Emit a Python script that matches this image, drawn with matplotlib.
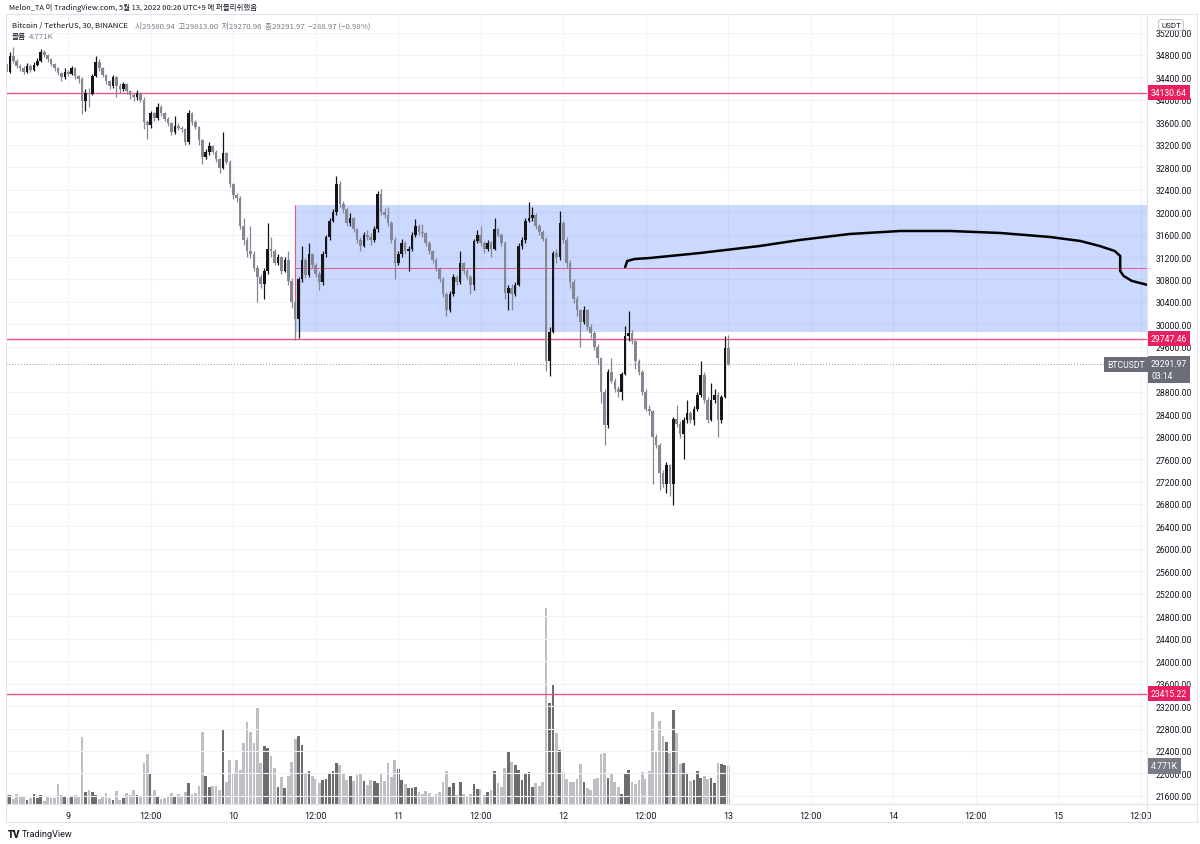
import numpy as np
import matplotlib
matplotlib.use("Agg")
import matplotlib.pyplot as plt
from matplotlib import transforms
from matplotlib.lines import Line2D
from matplotlib.patches import Rectangle

plt.rcParams["font.family"] = ["Roboto", "Noto Sans CJK KR", "DejaVu Sans"]

# 30 min candles, BTCUSDT, May 8 15:00 .. May 13 00:00 (hours from May 9 00:00)
start_hour = -9.0
bar_hours = 0.5
first_open = 34640

closes = [
    34500, 34780, 34700, 34600, 34560, 34500, 34600, 34540, 34620, 34700,
    34860, 34800, 34720, 34640, 34560, 34480, 34400, 34500, 34460, 34560,
    34420, 34380, 33980, 34120, 34100, 34420, 34680, 34560, 34440, 34330,
    34250, 34400, 34250, 34200, 34280, 34150, 34080, 34050, 34120, 34000,
    33600, 33560, 33760, 33680, 33880, 33760, 33660, 33580, 33420, 33540,
    33500, 33480, 33250, 33760, 33600, 33520, 33280, 32980, 33080, 33180,
    33080, 32940, 32780, 33060, 32900, 32500, 32300, 32250, 31750, 31500,
    31300, 31250, 31000, 30850, 30720, 30950, 31350, 31300, 31100, 31200,
    30960, 31150, 30780, 30400, 30100, 30800, 31150, 30880, 31250, 31050,
    30900, 30750, 31250, 31550, 31850, 32000, 32500, 32150, 32050, 31800,
    31900, 31700, 31500, 31400, 31600, 31550, 31500, 31700, 32330, 32000,
    31950, 31800, 31500, 31100, 31250, 31450, 31300, 31350, 31600, 31750,
    31650, 31620, 31450, 31300, 31150, 31000, 30800, 30550, 30250, 30550,
    30850, 30750, 31100, 30950, 30850, 30700, 31480, 31600, 31450, 31350,
    31450, 31350, 31700, 31600, 31450, 30560, 30650, 30550, 30700, 31400,
    31500, 31850, 31900, 31950, 31750, 31650, 31520, 29350, 29870, 31270,
    31200, 31800, 31500, 31100, 30750, 30450, 30250, 30050, 30250, 29950,
    29850, 29600, 29400, 28800, 28200, 29150, 29000, 28850, 28800, 29120,
    29800, 29850, 29700, 29350, 29150, 28800, 28500, 28450, 28000, 27850,
    27350, 27150, 27500, 27150, 28320, 28230, 28050, 28300, 28420, 28300,
    28500, 28750, 29100, 28650, 28300, 28650, 28750, 28300, 28700, 29580.94,
    29291.97,
]
highs = [
    34680, 34850, 34940, 34720, 34640, 34600, 34650, 34640, 34680, 34740,
    34900, 34880, 34820, 34740, 34660, 34580, 34500, 34560, 34540, 34600,
    34580, 34450, 34400, 34200, 34220, 34460, 34780, 34720, 34580, 34460,
    34360, 34440, 34420, 34300, 34320, 34300, 34180, 34120, 34180, 34140,
    34050, 33650, 33800, 33780, 33950, 33900, 33780, 33700, 33600, 33720,
    33580, 33540, 33500, 33820, 33780, 33640, 33540, 33300, 33120, 33250,
    33200, 33100, 32960, 33420, 33080, 32920, 32520, 32340, 32280, 31900,
    31550, 31750, 31300, 31050, 30900, 31000, 31800, 31550, 31350, 31260,
    31220, 31200, 31300, 30820, 30450, 30850, 31400, 31180, 31450, 31280,
    31100, 30950, 31300, 31600, 31900, 32060, 32650, 32550, 32200, 32080,
    31980, 31920, 31720, 31550, 31650, 31680, 31620, 31760, 32380, 32420,
    32080, 32100, 31850, 31550, 31300, 31520, 31480, 31400, 31650, 31870,
    31780, 31780, 31650, 31480, 31320, 31180, 31020, 30850, 30580, 30600,
    30900, 30880, 31300, 31120, 30980, 30880, 31520, 31680, 31750, 31480,
    31500, 31480, 31900, 31720, 31620, 31480, 30700, 30720, 30750, 31450,
    31560, 31900, 32180, 32100, 31980, 31780, 31680, 31550, 29950, 31300,
    31350, 32020, 31850, 31550, 31150, 30800, 30500, 30280, 30320, 30280,
    30000, 29880, 29650, 29420, 28850, 29200, 29400, 29050, 28900, 29150,
    29980, 30240, 29900, 29720, 29380, 29180, 28850, 28560, 28470, 28050,
    27880, 27400, 27550, 27520, 28350, 28560, 28280, 28350, 28650, 28450,
    28550, 28800, 29350, 29150, 28700, 28950, 28850, 28800, 28750, 29800,
    29813.00,
]
lows = [
    34470, 34480, 34660, 34560, 34520, 34460, 34480, 34500, 34520, 34600,
    34680, 34760, 34680, 34600, 34520, 34440, 34340, 34380, 34420, 34440,
    34380, 34300, 33750, 33800, 33880, 34080, 34400, 34520, 34400, 34280,
    34200, 34220, 34050, 34120, 34150, 34100, 34020, 33980, 34000, 33960,
    33480, 33300, 33500, 33620, 33650, 33720, 33620, 33540, 33380, 33400,
    33460, 33420, 33200, 33220, 33560, 33480, 33200, 32860, 32940, 33020,
    33040, 32900, 32700, 32760, 32860, 32440, 32240, 32180, 31700, 31420,
    31200, 31180, 30950, 30400, 30650, 30450, 30900, 31200, 31050, 31050,
    30900, 30940, 30700, 30300, 29720, 29760, 30750, 30820, 30850, 31000,
    30850, 30620, 30700, 31200, 31500, 31820, 31950, 32100, 31980, 31750,
    31760, 31650, 31450, 31300, 31380, 31500, 31420, 31460, 31650, 31950,
    31900, 31750, 31450, 30800, 31050, 31200, 31250, 30950, 31300, 31550,
    31600, 31560, 31400, 31250, 31100, 30950, 30750, 30480, 30150, 30220,
    30500, 30700, 30720, 30900, 30800, 30550, 30620, 31450, 31400, 31280,
    31300, 31200, 31320, 31550, 31400, 30450, 30250, 30250, 30500, 30680,
    31350, 31450, 31820, 31850, 31700, 31600, 31480, 29170, 29080, 29850,
    31100, 31150, 31450, 31000, 30650, 30380, 30150, 29600, 30000, 29900,
    29750, 29550, 29300, 28600, 27850, 28150, 28950, 28800, 28700, 28650,
    29100, 29700, 29650, 29200, 29100, 28750, 28450, 28380, 27160, 27800,
    27050, 27100, 27000, 26950, 26780, 28180, 27980, 27600, 28250, 28250,
    28200, 28450, 28700, 28600, 28250, 28280, 28600, 28000, 28250, 28680,
    29270.96,
]
# volume in thousands of BTC
volumes = [
    1.1, 1.1, 0.6, 1.3, 0.9, 0.9, 0.5, 0.75, 1.3, 0.75,
    1.1, 0.4, 0.9, 0.75, 0.75, 2.5, 1.1, 1.0, 0.75, 1.0,
    1.1, 0.9, 8.4, 1.5, 1.7, 1.55, 1.1, 0.65, 0.9, 1.4,
    0.75, 0.5, 1.6, 0.55, 0.7, 1.4, 1.1, 1.75, 1.15, 0.9,
    5.1, 6.3, 3.75, 1.7, 1.05, 0.65, 0.8, 0.85, 1.4, 0.95,
    1.25, 0.95, 1.55, 2.65, 1.2, 1.4, 2.2, 9.1, 3.5, 2.15,
    2.25, 2.2, 1.8, 9.3, 2.8, 5.5, 3.85, 5.5, 4.3, 7.6,
    10.3, 9.0, 7.7, 12.0, 5.2, 7.3, 7.05, 6.0, 4.5, 2.15,
    3.4, 1.95, 3.5, 5.3, 8.2, 8.6, 7.4, 3.9, 4.2, 3.5,
    3.2, 2.6, 3.05, 3.2, 3.85, 4.15, 5.1, 4.9, 3.8, 3.0,
    3.55, 2.85, 3.65, 3.9, 2.9, 2.4, 3.0, 2.9, 2.65, 3.9,
    2.85, 5.1, 3.4, 5.5, 4.4, 3.0, 2.5, 2.05, 2.05, 2.15,
    1.5, 1.3, 1.6, 1.4, 1.0, 1.2, 1.55, 2.75, 4.2, 2.1,
    2.6, 1.15, 2.7, 1.25, 1.05, 1.3, 2.45, 1.9, 1.85, 1.15,
    1.5, 1.8, 4.15, 2.6, 2.1, 4.5, 6.5, 5.3, 4.9, 4.3,
    3.0, 3.8, 4.05, 2.15, 2.65, 2.2, 2.7, 24.6, 12.7, 14.9,
    8.9, 6.8, 4.05, 3.2, 2.7, 2.7, 3.15, 5.0, 2.7, 2.0,
    1.75, 3.15, 3.3, 6.3, 6.35, 3.3, 3.9, 2.75, 2.15, 1.3,
    3.85, 4.3, 2.7, 2.55, 3.05, 4.0, 3.2, 4.15, 11.5, 6.6,
    10.45, 8.5, 7.8, 6.45, 11.8, 8.9, 5.05, 5.1, 3.9, 2.85,
    3.05, 4.1, 3.25, 3.55, 3.1, 3.3, 2.6, 5.15, 5.0, 4.95,
    4.771,
]

# drawings
levels = [34130.64, 29747.46, 23415.22]
zone_start = 33.0
zone_top = 32127
zone_bottom = 29865
zone_mid = 30996
path_hours = [81.0, 81.3, 82.4, 84.6, 91.9, 100.6, 106.4, 113.7, 121.0, 128.2,
              135.5, 142.8, 147.2, 150.0, 152.2, 153.0, 153.0, 153.5, 154.7, 157.0]
path_prices = [31022, 31130, 31165, 31183, 31272, 31397, 31504, 31611, 31664, 31664,
               31629, 31557, 31486, 31397, 31308, 31219, 30952, 30863, 30774, 30702]

last_price = 29291.97
last_volume = 4.771
# 29200 sits under the last-price box, so it is not shown
price_ticks = [p for p in range(21600, 35201, 400) if p != 29200]
x_ticks = list(range(0, 157, 12))
x_labels = ["9", "12:00", "10", "12:00", "11", "12:00", "12", "12:00",
            "13", "12:00", "14", "12:00", "15", "12:00"]

pink = "#f2508a"
pink_tag = "#e8205f"
up_col, down_col = "#151515", "#858892"
vol_up, vol_down = "#6c6c6c", "#bebfc3"
text_col = "#131722"
line_col = "#e0e3eb"
kr = ["Noto Sans CJK KR", "DejaVu Sans"]

W, H = 1200, 845
fig = plt.figure(figsize=(W / 100, H / 100), dpi=100)
ax = fig.add_axes([6 / W, 1 - 805 / H, 1141 / W, 790 / H])
ax2 = ax.twinx()
ax.set_zorder(ax2.get_zorder() + 1)
ax.patch.set_visible(False)

n = len(closes)
hours = start_hour + bar_hours * np.arange(n)
c = np.array(closes)
o = np.array([first_open] + closes[:-1])
up = c >= o
cols = np.where(up, up_col, down_col)

# volume
ax2.bar(hours, volumes, width=0.4, color=np.where(up, vol_up, vol_down), linewidth=0)
ax2.set_ylim(0, 790 * last_volume / 38)
ax2.set_yticks([])
for s in ax2.spines.values():
    s.set_visible(False)

# zone + levels
ax.add_patch(Rectangle((zone_start, zone_bottom), 200, zone_top - zone_bottom,
                       facecolor=(41 / 255, 98 / 255, 1, 0.24), edgecolor="none", zorder=1))
ax.hlines(zone_mid, zone_start, 200, color=pink, lw=0.7, zorder=2)
ax.vlines(zone_start, levels[1], zone_top, color=pink, lw=0.8, zorder=2)
for lv in levels:
    ax.axhline(lv, color=pink, lw=1.0, zorder=2)
ax.axhline(last_price, color="#9598a1", lw=0.7, ls=(0, (1, 2)), zorder=2)

# candles
ax.vlines(hours, lows, highs, colors=cols, lw=0.9, zorder=3)
ax.bar(hours, np.maximum(np.abs(c - o), 12), bottom=np.minimum(c, o), width=0.38,
       color=cols, linewidth=0, zorder=3)

ax.plot(path_hours, path_prices, color="black", lw=1.8, solid_capstyle="round",
        solid_joinstyle="round", zorder=4)

ax.set_xlim(-9.06, 156.9)
ax.set_ylim(21455, 35530)
ax.yaxis.tick_right()
ax.set_yticks(price_ticks)
ax.set_yticklabels([f"{v:.2f}" for v in price_ticks])
ax.set_xticks(x_ticks)
ax.set_xticklabels(x_labels)
ax.tick_params(axis="y", length=0, pad=6, labelsize=6.2, labelcolor=text_col)
ax.tick_params(axis="x", length=0, pad=5, labelsize=6.5, labelcolor=text_col)
ax.grid(True, color="#f0f3fa", lw=0.8)
ax.set_axisbelow(True)
for s in ax.spines.values():
    s.set_visible(False)


def fline(x0, y0, x1, y1):
    fig.add_artist(Line2D([x0 / W, x1 / W], [1 - y0 / H, 1 - y1 / H],
                          transform=fig.transFigure, color=line_col, lw=0.8))


fline(6, 15, 1197, 15)
fline(6, 15, 6, 823)
fline(6, 805, 1197, 805)
fline(6, 823, 1197, 823)
fline(1147, 15, 1147, 823)
fline(1197, 15, 1197, 823)

price_tr = transforms.blended_transform_factory(fig.transFigure, ax.transData)
vol_tr = transforms.blended_transform_factory(fig.transFigure, ax2.transData)


def tag(x, y, s, bg, tr, ha="left", fg="white"):
    fig.text(x / W, y, s, transform=tr, ha=ha, va="center", fontsize=6.2, color=fg,
             bbox=dict(boxstyle="square,pad=0.35", fc=bg, ec="none"), zorder=5)


for lv in levels:
    tag(1151, lv, f"{lv:.2f}", pink_tag, price_tr)
tag(1145, last_price, "BTCUSDT", "#6a6d78", price_tr, ha="right")
fig.text(1151 / W, last_price, f"{last_price:.2f}\n03:14",
         transform=transforms.offset_copy(price_tr, fig=fig, y=-5.5, units="dots"),
         ha="left", va="center", fontsize=6.2, color="white", linespacing=1.35,
         bbox=dict(boxstyle="square,pad=0.35", fc="#6a6d78", ec="none"), zorder=5)
tag(1151, last_volume, f"{last_volume}K", "#787b86", vol_tr)
fig.text(1171 / W, 1 - 26 / H, "USDT", ha="center", va="center", fontsize=5.8,
         color=text_col, bbox=dict(boxstyle="round,pad=0.3", fc="white", ec="#b2b5be", lw=0.6),
         zorder=6)

# header
fig.text(9 / W, 1 - 8 / H, "Melon_TA 이 TradingView.com, 5월 13, 2022 00:26 UTC+9 에 퍼블리쉬했음",
         fontsize=5.4, family=kr, color=text_col, va="center")
sym = fig.text(12 / W, 1 - 26 / H, "Bitcoin / TetherUS, 30, BINANCE", fontsize=5.6,
               family=kr, color=text_col, va="center")
plt.annotate("시29580.94  고29813.00  저29270.96  종29291.97  −288.97 (−0.98%)",
             xy=(1, 0.5), xycoords=sym, xytext=(7, 0), textcoords="offset pixels",
             fontsize=5.6, family=kr, color="#787b86", va="center", ha="left")
fig.text(12 / W, 1 - 37 / H, "볼륨", fontsize=5.6, family=kr, color=text_col, va="center")
fig.text(29 / W, 1 - 37 / H, "4.771K", fontsize=5.6, family=kr, color="#787b86", va="center")

# footer
fig.text(8 / W, 1 - 835 / H, "TV", fontsize=7, fontweight="heavy", color=text_col, va="center")
fig.text(22 / W, 1 - 835 / H, "TradingView", fontsize=6.6, color=text_col, va="center")

fig.savefig("out.png", dpi=100)
